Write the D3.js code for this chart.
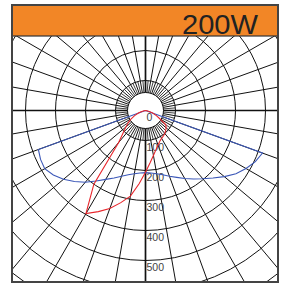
<!DOCTYPE html>
<html>
<head>
<meta charset="utf-8">
<script src="https://cdn.jsdelivr.net/npm/d3@7"></script>
<style>
  body { margin: 0; background: #fff; }
  svg { display: block; }
</style>
</head>
<body>
<svg id="chart"></svg>
<script>
const WIDTH = 287;
const HEIGHT = 285;

// Angles from nadir in degrees, negative to the left.
const angles = [-90, -85, -80, -75, -70, -65, -60, -55, -50, -45, -40, -35, -30, -25, -20, -15, -10, -5,
  0, 5, 10, 15, 20, 25, 30, 35, 40, 45, 50, 55, 60, 65, 70, 75, 80, 85, 90];

// C0-C180 plane (blue)
const bluePlane = [0, 0, 0, 0, 380, 386, 388, 375, 357, 335, 312, 287, 265, 248, 233, 222, 214, 209,
  207, 209, 214, 222, 233, 246, 262, 279, 297, 318, 343, 368, 387, 404, 415, 0, 0, 0, 0];

// C90-C270 plane (red)
const redPlane = [0, 0, 5, 15, 25, 40, 55, 70, 85, 105, 140, 300, 397, 372, 348, 318, 290, 245,
  206, 175, 152, 135, 122, 113, 107, 104, 100, 95, 90, 82, 55, 40, 25, 15, 5, 0, 0];

const ringValues = [100, 200, 300, 400, 500, 600, 700];
const ringLabels = [0, 100, 200, 300, 400, 500];
const title = '200W';

const cx = 145.5;
const cy = 110.5;
const box = {x: 12, y: 5, w: 266, h: 277};
const headerH = 31;
const innerR = 18;

const svg = d3.select('#chart')
  .attr('width', WIDTH)
  .attr('height', HEIGHT)
  .attr('viewBox', `0 0 ${WIDTH} ${HEIGHT}`);

const r = d3.scaleLinear().domain([0, 100]).range([0, 30]);
const rad = d => d * Math.PI / 180;

svg.append('clipPath').attr('id', 'plot')
  .append('rect')
  .attr('x', box.x)
  .attr('y', box.y + headerH)
  .attr('width', box.w)
  .attr('height', box.h - headerH);

// clip on the outer group so the clip rect stays in page coordinates
const grid = svg.append('g')
  .attr('clip-path', 'url(#plot)')
  .append('g')
  .attr('transform', `translate(${cx},${cy})`);

// Rings
grid.selectAll('circle.ring')
  .data(ringValues)
  .enter()
  .append('circle')
  .attr('class', 'ring')
  .attr('r', d => r(d))
  .attr('fill', 'none')
  .attr('stroke', '#111')
  .attr('stroke-width', 1);

grid.append('circle')
  .attr('r', innerR)
  .attr('fill', 'none')
  .attr('stroke', '#111')
  .attr('stroke-width', 1);

// Spokes: every 5 degrees near the centre, every 10 degrees further out.
const spokes = d3.range(0, 360, 5);
grid.selectAll('line.spoke')
  .data(spokes)
  .enter()
  .append('line')
  .attr('class', 'spoke')
  .attr('x1', d => innerR * Math.sin(rad(d)))
  .attr('y1', d => innerR * Math.cos(rad(d)))
  .attr('x2', d => (d % 10 === 0 ? 260 : r(100)) * Math.sin(rad(d)))
  .attr('y2', d => (d % 10 === 0 ? 260 : r(100)) * Math.cos(rad(d)))
  .attr('stroke', '#111')
  .attr('stroke-width', d => (d % 90 === 0 ? 1.7 : d % 10 === 0 ? 1 : 0.8));

// Ring labels
grid.selectAll('text.lbl')
  .data(ringLabels)
  .enter()
  .append('text')
  .attr('class', 'lbl')
  .attr('x', 1)
  .attr('y', d => r(d) + 10)
  .attr('font-family', 'Liberation Sans, Arial, sans-serif')
  .attr('font-size', 10.5)
  .attr('fill', '#444')
  .text(d => d);

// Curves
const line = d3.lineRadial()
  .angle(d => Math.PI - rad(d[0]))
  .radius(d => r(d[1]));

grid.append('path')
  .attr('d', line(angles.map((a, i) => [a, bluePlane[i]])))
  .attr('fill', 'none')
  .attr('stroke', '#3c58b8')
  .attr('stroke-width', 1.1);

grid.append('path')
  .attr('d', line(angles.map((a, i) => [a, redPlane[i]])))
  .attr('fill', 'none')
  .attr('stroke', '#e8252b')
  .attr('stroke-width', 1.1);

// Header
svg.append('rect')
  .attr('x', box.x)
  .attr('y', box.y)
  .attr('width', box.w)
  .attr('height', headerH)
  .attr('fill', '#f28626')
  .attr('stroke', '#333')
  .attr('stroke-width', 1.2);

svg.append('text')
  .attr('x', 258)
  .attr('y', 33.5)
  .attr('text-anchor', 'end')
  .attr('font-family', 'Liberation Sans, Arial, sans-serif')
  .attr('font-size', 27)
  .attr('textLength', 76)
  .attr('lengthAdjust', 'spacingAndGlyphs')
  .attr('fill', '#222')
  .text(title);

// Frame
svg.append('rect')
  .attr('x', box.x)
  .attr('y', box.y)
  .attr('width', box.w)
  .attr('height', box.h)
  .attr('fill', 'none')
  .attr('stroke', '#444')
  .attr('stroke-width', 2);
</script>
</body>
</html>
